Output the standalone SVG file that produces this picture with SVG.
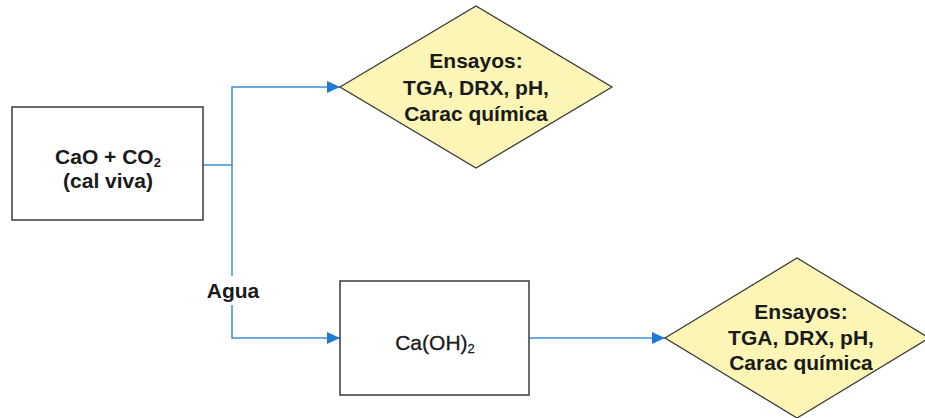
<svg xmlns="http://www.w3.org/2000/svg" width="925" height="418" viewBox="0 0 925 418">
<defs>
<marker id="arr" markerWidth="14" markerHeight="14" refX="13" refY="7" orient="auto" markerUnits="userSpaceOnUse">
<path d="M0,1 L13,7 L0,13 Z" fill="#1f7ad4"/>
</marker>
<style>
.box{fill:#ffffff;stroke:#3a3a3a;stroke-width:1.5}
.dia{fill:#fbf6b6;stroke:#3a3a3a;stroke-width:1.3}
.t{font-family:"Liberation Sans",Arial,sans-serif;font-size:21px;font-weight:bold;fill:#1a1a1a;text-anchor:middle}
.n{font-weight:normal;stroke:#1a1a1a;stroke-width:0.3}
.c{fill:none;stroke:#3d90d6;stroke-width:1.5}
.sub{font-size:13px}
</style>
</defs>
<rect width="925" height="418" fill="#ffffff"/>
<g id="connectors">
<path class="c" d="M203,165 H232"/>
<path class="c" d="M232,165 V87 H340" marker-end="url(#arr)"/>
<path class="c" d="M232,165 V276"/>
<path class="c" d="M232,305 V338 H340" marker-end="url(#arr)"/>
<path class="c" d="M529,338 H665" marker-end="url(#arr)"/>
<text class="t" x="233" y="298">Agua</text>
</g>
<g id="cal-viva">
<rect class="box" x="12" y="107" width="191" height="113"/>
<text class="t" x="108" y="164">CaO + CO<tspan class="sub" dy="3">2</tspan></text>
<text class="t" x="108" y="188">(cal viva)</text>
</g>
<g id="ensayos-1">
<polygon class="dia" points="340,87 476,6 612,87 476,168"/>
<text class="t" x="476" y="68">Ensayos:</text>
<text class="t" x="476" y="95">TGA, DRX, pH,</text>
<text class="t" x="476" y="121">Carac química</text>
</g>
<g id="caoh2">
<rect class="box" x="340" y="281" width="189" height="114"/>
<text class="t n" x="435" y="350">Ca(OH)<tspan class="sub" dy="3">2</tspan></text>
</g>
<g id="ensayos-2">
<polygon class="dia" points="665,338 797,258 929,338 797,418"/>
<text class="t" x="801" y="319">Ensayos:</text>
<text class="t" x="801" y="345">TGA, DRX, pH,</text>
<text class="t" x="801" y="370">Carac química</text>
</g>
</svg>
